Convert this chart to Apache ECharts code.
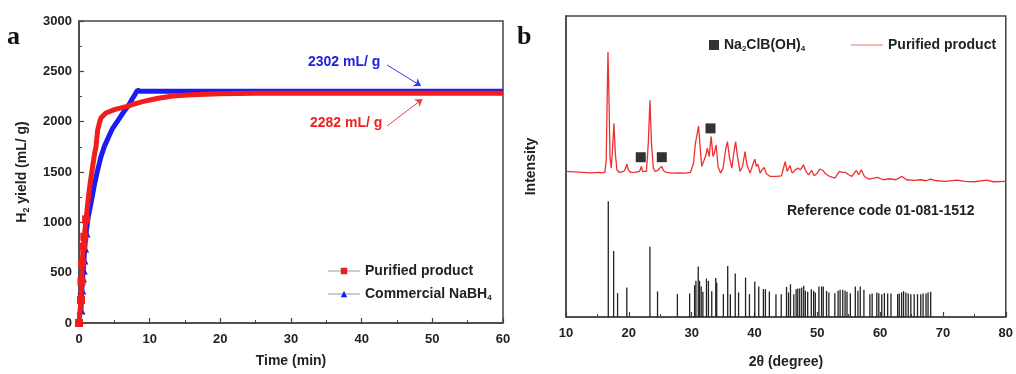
<!DOCTYPE html>
<html><head><meta charset="utf-8">
<script src="https://cdn.jsdelivr.net/npm/echarts@6/dist/echarts.min.js"></script>
<style>html,body{margin:0;padding:0;background:#fff}#c{width:1016px;height:374px}</style>
</head><body><div id="c"></div>
<script>
// ---- Panel a: H2 yield vs time (min, mL/g)
const purifiedYield = [[0,0],[0.28,228],[0.35,410],[0.45,596],[0.6,760],[0.75,857],[1.0,1030],[1.3,1230],[1.6,1400],[1.93,1553],[2.2,1680],[2.4,1750],[2.64,1917],[2.9,1990],[3.1,2036],[3.8,2086],[5.0,2120],[6.65,2149],[8.0,2180],[9.0,2199],[11,2230],[13.3,2255],[16,2268],[20,2278],[25,2282],[30,2282],[40,2282],[50,2282],[60,2282]];
const commercialYield = [[0.28,129],[0.4,328],[0.5,447],[0.6,527],[0.7,626],[0.8,745],[1.0,894],[1.3,1050],[1.7,1192],[2.2,1380],[2.64,1520],[3.1,1650],[3.58,1752],[4.2,1850],[4.76,1934],[5.5,2010],[6.18,2083],[7.0,2160],[7.6,2232],[8.3,2315],[8.6,2302],[20,2302],[30,2302],[40,2302],[50,2302],[60,2302]];
const timeTicks = [0,10,20,30,40,50,60];
const yieldTicks = [0,500,1000,1500,2000,2500,3000];
// ---- Panel b: XRD (2theta degree, intensity a.u.)
const xrdPurified = [[10,439],[12,437],[14,435],[15.3,436],[15.5,442],[15.7,435],[16.2,437],[16.4,474],[16.55,654],[16.68,799],[16.85,654],[17.0,484],[17.2,449],[17.4,504],[17.63,584],[17.85,494],[18.1,444],[18.5,436],[19.2,439],[19.5,449],[19.7,461],[19.9,444],[20.3,436],[21,436],[21.7,439],[22.0,454],[22.2,439],[22.8,439],[23.1,524],[23.36,654],[23.6,524],[23.9,449],[24.2,439],[24.6,442],[24.9,449],[25.25,454],[25.5,442],[26,436],[27,434],[28,435],[29,434],[29.8,436],[30.3,464],[30.6,524],[30.8,544],[31.1,576],[31.35,514],[31.6,454],[31.9,454],[32.2,484],[32.5,509],[32.8,484],[33.1,544],[33.4,484],[33.6,494],[33.9,519],[34.2,454],[34.6,434],[35.0,449],[35.4,504],[35.7,529],[36.0,484],[36.4,449],[36.7,494],[37.0,529],[37.3,484],[37.7,439],[38.1,454],[38.5,499],[38.8,459],[39.3,434],[39.8,464],[40.05,476],[40.3,454],[40.55,461],[40.9,434],[41.2,444],[41.55,451],[41.9,432],[42.5,424],[43.5,424],[44.3,426],[44.9,469],[45.2,439],[45.65,457],[46.0,434],[46.5,444],[46.9,449],[47.3,444],[47.8,459],[48.2,439],[48.6,429],[49.1,442],[49.5,426],[50.0,434],[50.4,446],[50.9,442],[51.3,432],[52,424],[52.8,419],[53.5,439],[54.0,436],[54.5,436],[55.0,429],[55.5,424],[56.2,442],[56.6,429],[57.0,444],[57.5,424],[58.2,416],[59.6,421],[60.5,414],[61.5,417],[62.5,414],[63.5,424],[64.2,414],[65.5,412],[66.4,414],[67.3,411],[68,416],[69,411],[70.5,409],[72.2,413],[73.5,409],[75,408],[77,413],[78,408],[80,409]];
const phaseMarks = [[21.9,482],[25.25,482],[33.0,569]];
const refSticks = [[16.73,349],[17.58,199],[18.21,72],[19.68,89],[23.36,212],[24.57,77],[27.73,69],[29.68,71],[30.47,96],[30.68,109],[31.05,152],[31.26,109],[31.52,92],[31.79,76],[32.36,116],[32.67,109],[33.2,78],[33.84,118],[33.99,104],[35.05,69],[35.74,154],[36.16,69],[36.94,131],[37.47,74],[38.58,119],[39.2,69],[40.05,107],[40.68,92],[41.42,84],[41.74,84],[42.37,77],[43.42,69],[44.26,69],[45.1,91],[45.42,74],[45.73,99],[46.26,69],[46.63,84],[46.89,86],[47.2,86],[47.52,89],[47.84,94],[48.1,79],[48.47,76],[49.05,84],[49.42,79],[49.68,74],[50.26,92],[50.68,92],[50.95,92],[51.47,79],[51.84,74],[52.79,72],[53.31,79],[53.63,82],[54.05,82],[54.42,79],[54.73,76],[55.26,72],[56.05,92],[56.47,79],[56.84,92],[57.42,82],[58.37,69],[58.73,71],[59.47,74],[59.79,72],[60.26,69],[60.68,72],[61.2,71],[61.73,71],[62.79,69],[63.05,71],[63.42,74],[63.73,78],[64.1,74],[64.47,71],[64.89,69],[65.42,69],[65.95,69],[66.47,69],[66.84,71],[67.31,71],[67.63,74],[68.05,76]];
const twoThetaTicks = [10,20,30,40,50,60,70,80];

const FONT = '"Liberation Sans", Arial, sans-serif';
const lab = {fontFamily: FONT, fontWeight: 'bold', fontSize: 13, color: '#222', formatter: function (v) { return String(v); }};
const nameStyle = {fontFamily: FONT, fontWeight: 'bold', fontSize: 14, color: '#222'};
const axLine = {show: true, lineStyle: {color: '#444', width: 1.5}};
const tick = {show: true, inside: true, length: 5, lineStyle: {color: '#444', width: 1.2}};
const minor = {show: true, splitNumber: 2, length: 3, lineStyle: {color: '#444', width: 1}};
const richSub = {n: Object.assign({lineHeight: 16}, nameStyle), s: Object.assign({}, nameStyle, {fontSize: 8, lineHeight: 8, verticalAlign: 'bottom'})};
// early points keep their visible markers; the dense tail reads as a thick band
function withMarkers(arr) {
  return arr.map(function (p) { return p[0] < 1.2 ? p : {value: p, symbol: 'none'}; });
}

const chart = echarts.init(document.getElementById('c'), null, {renderer: 'canvas'});
chart.setOption({
  animation: false,
  backgroundColor: '#fff',
  grid: [
    {left: 79, right: 513, top: 21, bottom: 51, show: true, borderColor: '#444', borderWidth: 1.5},
    {left: 566, right: 7, top: 16, bottom: 56, show: true, borderColor: '#444', borderWidth: 1.5}
  ],
  xAxis: [
    {type: 'value', gridIndex: 0, min: timeTicks[0], max: timeTicks[timeTicks.length-1], interval: 10,
     axisLine: axLine, axisTick: tick, minorTick: minor, splitLine: {show: false},
     axisLabel: Object.assign({margin: 10}, lab),
     name: 'Time (min)', nameLocation: 'middle', nameGap: 31, nameTextStyle: nameStyle},
    {type: 'value', gridIndex: 1, min: twoThetaTicks[0], max: twoThetaTicks[twoThetaTicks.length-1], interval: 10,
     axisLine: axLine, axisTick: tick, minorTick: minor, splitLine: {show: false},
     axisLabel: Object.assign({margin: 10}, lab),
     name: '2θ (degree)', nameLocation: 'middle', nameGap: 38, nameTextStyle: nameStyle}
  ],
  yAxis: [
    {type: 'value', gridIndex: 0, min: yieldTicks[0], max: yieldTicks[yieldTicks.length-1], interval: 500,
     axisLine: axLine, axisTick: tick, minorTick: minor, splitLine: {show: false},
     axisLabel: Object.assign({margin: 7}, lab),
     name: '{n|H}{s|2}{n| yield (mL/ g)}', nameLocation: 'middle', nameGap: 48,
     nameTextStyle: {rich: {n: Object.assign({lineHeight: 18}, nameStyle), s: Object.assign({}, nameStyle, {fontSize: 9, lineHeight: 9, verticalAlign: 'bottom'})}}},
    {type: 'value', gridIndex: 1, min: 0, max: 908,
     axisLine: axLine, axisTick: {show: false}, axisLabel: {show: false}, splitLine: {show: false},
     name: 'Intensity', nameLocation: 'middle', nameGap: 28, nameTextStyle: nameStyle}
  ],
  legend: [
    {orient: 'vertical', left: 322, top: 259, itemGap: 9, itemWidth: 32, itemHeight: 8,
     textStyle: Object.assign({}, nameStyle, {rich: richSub}),
     formatter: function (n) { return n === 'Commercial NaBH4' ? '{n|Commercial NaBH}{s|4}' : '{n|' + n + '}'; },
     data: [
       {name: 'Purified product', lineStyle: {color: '#c9ccd8', width: 2}},
       {name: 'Commercial NaBH4', lineStyle: {color: '#c9ccd8', width: 2}}
     ]},
    {orient: 'horizontal', left: 704, top: 33, itemWidth: 10, itemHeight: 10, itemGap: 5,
     textStyle: Object.assign({}, nameStyle, {rich: richSub}),
     formatter: function () { return '{n|Na}{s|2}{n|ClB(OH)}{s|4}'; },
     data: [{name: 'Na2ClB(OH)4', icon: 'rect', itemStyle: {color: '#000'}}]},
    {orient: 'horizontal', left: 846, top: 33, itemWidth: 32, itemHeight: 10, itemGap: 5,
     textStyle: Object.assign({}, nameStyle, {rich: richSub}),
     formatter: function () { return '{n|Purified product}'; },
     data: [{name: 'XRD Purified product', icon: 'path://M0,4.6L32,4.6L32,5.4L0,5.4Z', itemStyle: {color: '#ee5050'}}]}
  ],
  graphic: [
    {type: 'text', left: 7, top: 24, style: {text: 'a', font: 'bold 26px "Liberation Serif", serif', fill: '#111'}},
    {type: 'text', left: 517, top: 24, style: {text: 'b', font: 'bold 26px "Liberation Serif", serif', fill: '#111'}},
    {type: 'text', left: 308, top: 55, style: {text: '2302 mL/ g', font: 'bold 14px "Liberation Sans", Arial, sans-serif', fill: '#2020e0'}},
    {type: 'text', left: 310, top: 116, style: {text: '2282 mL/ g', font: 'bold 14px "Liberation Sans", Arial, sans-serif', fill: '#ee2020'}},
    {type: 'text', left: 787, top: 204, style: {text: 'Reference code 01-081-1512', font: 'bold 14px "Liberation Sans", Arial, sans-serif', fill: '#222'}}
  ],
  series: [
    {name: 'Commercial NaBH4', type: 'line', xAxisIndex: 0, yAxisIndex: 0, data: withMarkers(commercialYield),
     symbol: 'triangle', symbolSize: 9, showSymbol: true, showAllSymbol: true, itemStyle: {color: '#1c1cf2'},
     lineStyle: {color: '#1c1cf2', width: 5}, z: 2,
     markLine: {silent: true, symbol: ['none', 'arrow'], symbolSize: 7, label: {show: false},
       lineStyle: {color: '#3a3ae8', width: 1, type: 'solid'},
       data: [[{coord: [43.6, 2563]}, {coord: [48.4, 2355]}]]}},
    {name: 'Purified product', type: 'line', xAxisIndex: 0, yAxisIndex: 0, data: withMarkers(purifiedYield),
     symbol: 'rect', symbolSize: 8, showSymbol: true, showAllSymbol: true, itemStyle: {color: '#f21c1c'},
     lineStyle: {color: '#f21c1c', width: 5}, z: 3,
     markLine: {silent: true, symbol: ['none', 'arrow'], symbolSize: 7, label: {show: false},
       lineStyle: {color: '#ee4040', width: 1, type: 'solid'},
       data: [[{coord: [43.6, 1957]}, {coord: [48.6, 2225]}]]}},
    {name: 'XRD Purified product', type: 'line', xAxisIndex: 1, yAxisIndex: 1, data: xrdPurified,
     symbol: 'none', lineStyle: {color: '#ee3030', width: 1.3}, itemStyle: {color: '#ee3030'}},
    {name: 'Na2ClB(OH)4', type: 'scatter', xAxisIndex: 1, yAxisIndex: 1, data: phaseMarks,
     symbol: 'rect', symbolSize: 10, itemStyle: {color: '#000'}},
    {name: 'Reference code', type: 'custom', xAxisIndex: 1, yAxisIndex: 1, data: refSticks,
     renderItem: function (params, api) {
       const p0 = api.coord([api.value(0), 0]);
       const p1 = api.coord([api.value(0), api.value(1)]);
       return {type: 'line', shape: {x1: p0[0], y1: p0[1], x2: p1[0], y2: p1[1]}, style: {stroke: '#222', lineWidth: 1.3}};
     }}
  ]
});
</script></body></html>
